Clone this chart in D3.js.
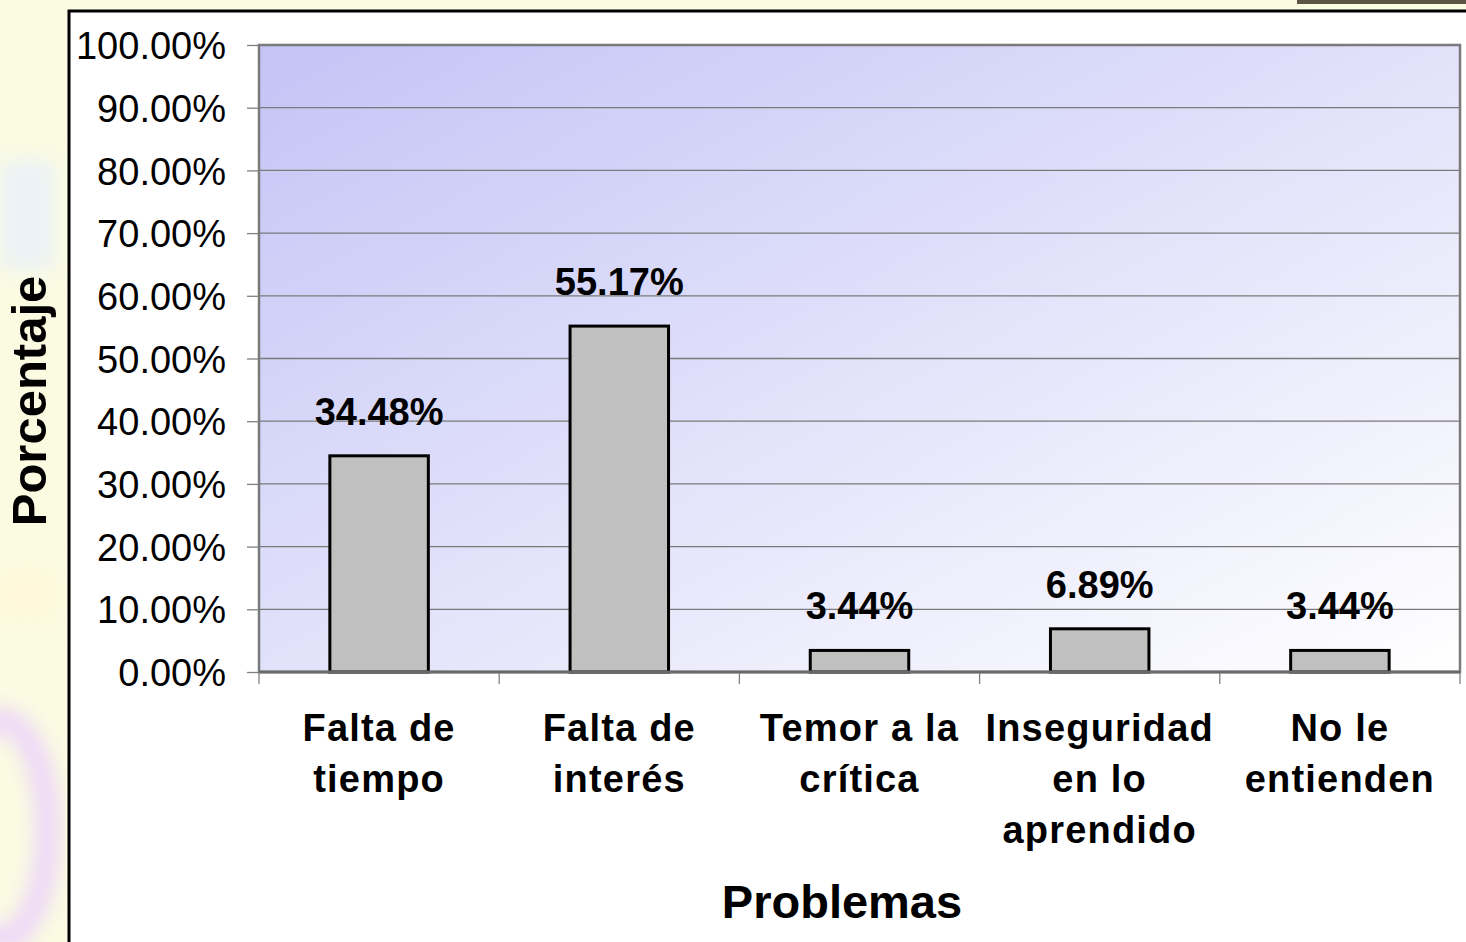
<!DOCTYPE html>
<html>
<head>
<meta charset="utf-8">
<title>Problemas</title>
<script src="https://cdn.jsdelivr.net/npm/d3@7"></script>
<style>
  html, body { margin: 0; padding: 0; background: #fbfbe2; }
  svg { display: block; }
  text { font-family: "Liberation Sans", Arial, Helvetica, sans-serif; fill: #000; }
</style>
</head>
<body>
<svg id="chart" width="1466" height="942"></svg>
<script>
// data
var categories = ["Falta de\ntiempo", "Falta de\ninterés", "Temor a la\ncrítica", "Inseguridad\nen lo\naprendido", "No le\nentienden"];
var values = [0.3448, 0.5517, 0.0344, 0.0689, 0.0344];
var valueLabels = ["34.48%", "55.17%", "3.44%", "6.89%", "3.44%"];
var yTicks = [0, 0.1, 0.2, 0.3, 0.4, 0.5, 0.6, 0.7, 0.8, 0.9, 1.0];

var svg = d3.select("#chart");
var plot = { left: 259, right: 1460, top: 45, bottom: 672 };

var defs = svg.append("defs");
var grad = defs.append("linearGradient").attr("id", "bg")
  .attr("x1", 0).attr("y1", 0).attr("x2", 1).attr("y2", 1);
grad.append("stop").attr("offset", "0%").attr("stop-color", "#c4c4f6");
grad.append("stop").attr("offset", "100%").attr("stop-color", "#ffffff");
defs.append("filter").attr("id", "blur").append("feGaussianBlur").attr("stdDeviation", 10);

// slide background behind the chart frame
var deco = svg.append("g").attr("filter", "url(#blur)");
deco.append("rect").attr("x", 0).attr("y", 160).attr("width", 55).attr("height", 110).attr("fill", "#ecf2f6");
deco.append("rect").attr("x", 0).attr("y", 570).attr("width", 55).attr("height", 50).attr("fill", "#fff8d8");
deco.append("ellipse").attr("cx", 0).attr("cy", 830).attr("rx", 48).attr("ry", 110)
  .attr("fill", "none").attr("stroke", "#ecd6fa").attr("stroke-width", 24);
svg.append("rect").attr("x", 1297).attr("y", 0).attr("width", 169).attr("height", 4).attr("fill", "#5e5444");

// chart frame
svg.append("rect").attr("x", 69).attr("y", 11).attr("width", 1420).attr("height", 960)
  .attr("fill", "#ffffff").attr("stroke", "#000").attr("stroke-width", 3);

var x = d3.scaleBand().domain(categories).range([plot.left, plot.right]).paddingInner(0.59).paddingOuter(0.295);
var y = d3.scaleLinear().domain([0, 1]).range([plot.bottom, plot.top]);

svg.append("rect").attr("x", plot.left).attr("y", plot.top)
  .attr("width", plot.right - plot.left).attr("height", plot.bottom - plot.top)
  .attr("fill", "url(#bg)");

// gridlines
svg.append("g").selectAll("line").data(yTicks.slice(1, -1)).join("line")
  .attr("x1", plot.left).attr("x2", plot.right)
  .attr("y1", function(d) { return y(d); }).attr("y2", function(d) { return y(d); })
  .attr("stroke", "#7a7a7a").attr("stroke-width", 1.3);

// y axis
var yAxis = svg.append("g").attr("transform", "translate(" + plot.left + ",0)")
  .call(d3.axisLeft(y).tickValues(yTicks).tickFormat(d3.format(".2%")).tickSize(12).tickPadding(21));
yAxis.select(".domain").remove();
yAxis.selectAll(".tick line").attr("stroke", "#808080").attr("stroke-width", 1.3);
yAxis.selectAll(".tick text").attr("font-size", 38).attr("font-family", "Liberation Sans, Arial, sans-serif")
  .attr("fill", "#000").attr("dy", "0.36em");

// plot border
svg.append("rect").attr("x", plot.left).attr("y", plot.top)
  .attr("width", plot.right - plot.left).attr("height", plot.bottom - plot.top)
  .attr("fill", "none").attr("stroke", "#7a7a7a").attr("stroke-width", 2.5);

// x ticks at band edges
var edges = categories.map(function(c) { return x(c) - x.step() * x.paddingInner() / 2; });
edges[0] = plot.left;
edges.push(plot.right);
svg.append("g").selectAll("line").data(edges).join("line")
  .attr("x1", function(d) { return d; }).attr("x2", function(d) { return d; })
  .attr("y1", plot.bottom).attr("y2", plot.bottom + 12)
  .attr("stroke", "#808080").attr("stroke-width", 1.3);

// bars
svg.append("g").selectAll("rect").data(values).join("rect")
  .attr("x", function(d, i) { return x(categories[i]); })
  .attr("y", function(d) { return y(d); })
  .attr("width", x.bandwidth())
  .attr("height", function(d) { return y(0) - y(d); })
  .attr("fill", "#c0c0c0").attr("stroke", "#000").attr("stroke-width", 3);

// x axis line
svg.append("line").attr("x1", plot.left).attr("x2", plot.right)
  .attr("y1", plot.bottom).attr("y2", plot.bottom)
  .attr("stroke", "#6a6a6a").attr("stroke-width", 3);

// value labels
svg.append("g").selectAll("text").data(values).join("text")
  .attr("x", function(d, i) { return x(categories[i]) + x.bandwidth() / 2; })
  .attr("y", function(d) { return y(d) - 31; })
  .attr("text-anchor", "middle").attr("font-size", 38).attr("font-weight", "bold")
  .text(function(d, i) { return valueLabels[i]; });

// category labels
var cat = svg.append("g").selectAll("text").data(categories).join("text")
  .attr("x", function(d) { return x(d) + x.bandwidth() / 2; })
  .attr("y", 741)
  .attr("text-anchor", "middle").attr("font-size", 38).attr("font-weight", "bold")
  .attr("letter-spacing", 1.2);
cat.selectAll("tspan").data(function(d) { return d.split("\n"); }).join("tspan")
  .attr("x", function() { return d3.select(this.parentNode).attr("x"); })
  .attr("dy", function(d, i) { return i === 0 ? 0 : 51; })
  .text(function(d) { return d; });

// axis titles
svg.append("text").attr("x", 842).attr("y", 918).attr("text-anchor", "middle")
  .attr("font-size", 47).attr("font-weight", "bold").text("Problemas");
svg.append("text").attr("transform", "translate(46,401) rotate(-90)").attr("text-anchor", "middle")
  .attr("font-size", 49).attr("font-weight", "bold").text("Porcentaje");
</script>
</body>
</html>
